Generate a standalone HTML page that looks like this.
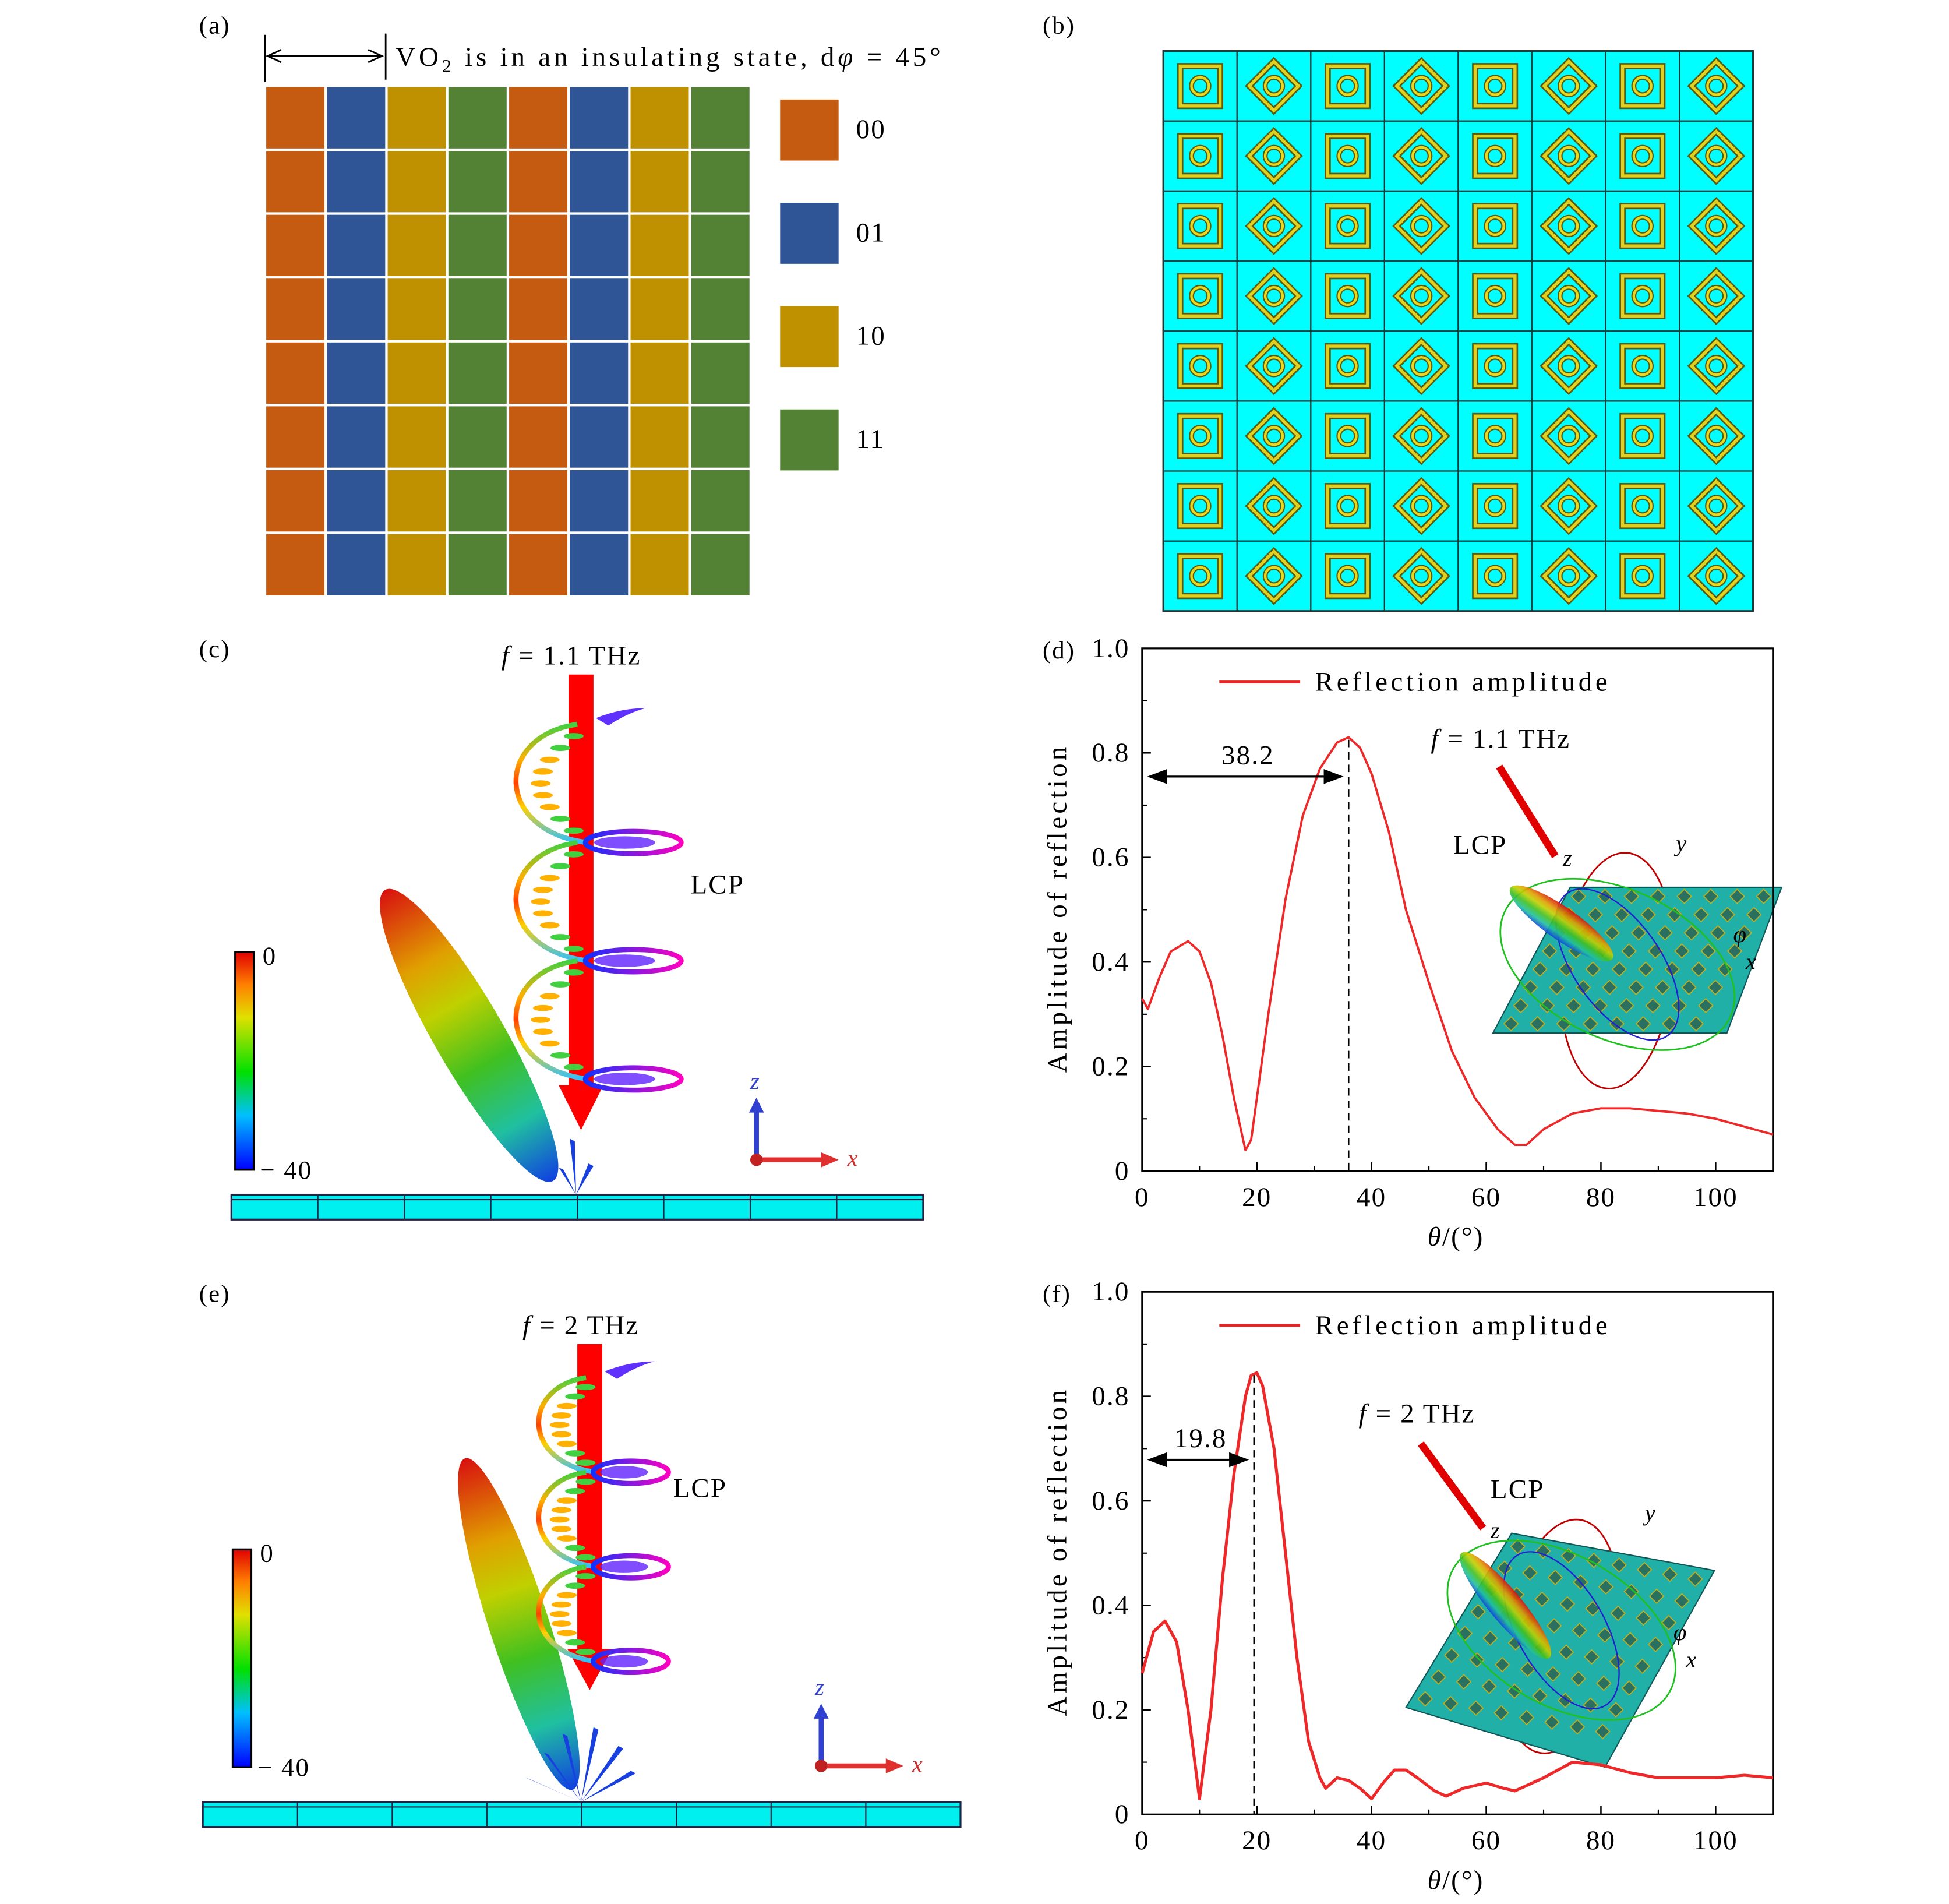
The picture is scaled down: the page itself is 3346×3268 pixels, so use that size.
<!DOCTYPE html>
<html><head><meta charset="utf-8">
<style>
html,body{margin:0;padding:0;background:#fff;}
#wrap{width:3346px;height:3268px;overflow:hidden;position:relative;background:#fff;}
#fig{position:absolute;left:0;top:0;transform:scale(2.136);transform-origin:0 0;}
text{font-family:"Liberation Serif",serif;fill:#000;}
</style></head><body>
<div id="wrap">
<svg id="fig" width="1567" height="1530" viewBox="0 0 1567 1530" xmlns="http://www.w3.org/2000/svg">
<defs>
<linearGradient id="cbar" x1="0" y1="1" x2="0" y2="0">
<stop offset="0" stop-color="#0000ff"/><stop offset="0.25" stop-color="#00c0ff"/><stop offset="0.45" stop-color="#00e000"/><stop offset="0.7" stop-color="#e0e000"/><stop offset="0.85" stop-color="#ff8000"/><stop offset="1" stop-color="#e00000"/></linearGradient>
<linearGradient id="lobe" x1="0" y1="0" x2="0" y2="1">
<stop offset="0" stop-color="#d81010"/><stop offset="0.25" stop-color="#e0a000"/><stop offset="0.4" stop-color="#c0d000"/><stop offset="0.6" stop-color="#40c020"/><stop offset="0.8" stop-color="#20c0a0"/><stop offset="1" stop-color="#1040e0"/></linearGradient>
<linearGradient id="rain" x1="0" y1="0" x2="0" y2="1">
<stop offset="0" stop-color="#40d040"/><stop offset="0.3" stop-color="#ffb000"/><stop offset="0.5" stop-color="#ff4000"/><stop offset="0.7" stop-color="#ffd000"/><stop offset="1" stop-color="#30c0ff"/></linearGradient>
<linearGradient id="bm" x1="0" y1="0" x2="1" y2="0">
<stop offset="0" stop-color="#1030ff"/><stop offset="1" stop-color="#ff00c0"/></linearGradient>
</defs>
<g id="root"></g>
</svg>
</div>
<script>
// ---- chart data ----
const thetaD=[0,1,3,5,8,10,12,14,16,18,19,22,25,28,31,34,36,38,40,43,46,50,54,58,62,65,67,70,75,80,85,90,95,100,105,110];
const ampD=[0.33,0.31,0.37,0.42,0.44,0.42,0.36,0.26,0.14,0.04,0.06,0.3,0.52,0.68,0.77,0.82,0.83,0.81,0.76,0.65,0.5,0.36,0.23,0.14,0.08,0.05,0.05,0.08,0.11,0.12,0.12,0.115,0.11,0.1,0.085,0.07];
const thetaF=[0,2,4,6,8,10,12,14,16,18,19,20,21,23,25,27,29,31,32,34,36,38,40,42,44,46,48,51,53,56,60,63,65,70,75,80,85,90,95,100,105,110];
const ampF=[0.27,0.35,0.37,0.33,0.2,0.03,0.2,0.45,0.65,0.8,0.84,0.845,0.82,0.7,0.5,0.3,0.14,0.07,0.05,0.07,0.065,0.05,0.03,0.06,0.085,0.085,0.07,0.045,0.035,0.05,0.06,0.05,0.045,0.07,0.1,0.095,0.08,0.07,0.07,0.07,0.075,0.07];
const xTicks=[0,20,40,60,80,100];
const yTicks=[0,0.2,0.4,0.6,0.8,1.0];
const yTickLabels=["0","0.2","0.4","0.6","0.8","1.0"];
const peakD=36, peakLabelD="38.2";
const peakF=19.5, peakLabelF="19.8";
const codeCols=["00","01","10","11","00","01","10","11"];
const codeColors={"00":"#c55a11","01":"#2f5597","10":"#bf9000","11":"#548235"};
const legendCodes=["00","01","10","11"];

const NS="http://www.w3.org/2000/svg";
const root=document.getElementById('root');
function mk(tag,attrs,parent,txt){const e=document.createElementNS(NS,tag);for(const k in attrs)e.setAttribute(k,attrs[k]);if(txt!==undefined)e.textContent=txt;(parent||root).appendChild(e);return e;}

// ---- panel (a) ----
let t=mk('text',{x:160,y:27,'font-size':20,'letter-spacing':1},root,'(a)');


const ga=mk('g',{});


for(let c=0;c<8;c++)for(let r=0;r<8;r++){
 const cell=mk('rect',{x:213+c*48.8+1,y:69+r*51.3+1,width:46.8,height:49.3,fill:codeColors[codeCols[c]]},ga);
 
 
}
mk('line',{x1:213,y1:28,x2:213,y2:66,stroke:'#000','stroke-width':1.3});
mk('line',{x1:310,y1:27,x2:310,y2:64,stroke:'#000','stroke-width':1.3});
mk('line',{x1:215,y1:45,x2:307,y2:45,stroke:'#000','stroke-width':1.3});
mk('path',{d:'M226,40 L215,45 L226,50 M296,40 L307,45 L296,50',fill:'none',stroke:'#000','stroke-width':1.3});
t=mk('text',{x:318,y:53,'font-size':22,textLength:438,lengthAdjust:'spacing'},root);
t.innerHTML='VO<tspan font-size="15" dy="5">2</tspan><tspan dy="-5"> is in an insulating state, d</tspan><tspan font-style="italic">φ</tspan> = 45°';


legendCodes.forEach((c,i)=>{
 const r=mk('rect',{x:627,y:80+i*83,width:47,height:49,fill:codeColors[c]});
 
 
 const l=mk('text',{x:688,y:111+i*83,'font-size':22,'letter-spacing':1},root,c);
 
 
});

// ---- panel (b) ----
t=mk('text',{x:838,y:27,'font-size':20,'letter-spacing':1},root,'(b)');


const gb=mk('g',{});


mk('rect',{x:935,y:41,width:474,height:450,fill:'#00ffff',stroke:'#333','stroke-width':1.5},gb);
const cw=474/8,ch=450/8;
for(let c=0;c<8;c++)for(let r=0;r<8;r++){
 const cx=935+c*cw+cw/2, cy=41+r*ch+ch/2;
 mk('rect',{x:935+c*cw,y:41+r*ch,width:cw,height:ch,fill:'none',stroke:'#1a3a3a','stroke-width':1},gb);
 const g=mk('g',{transform:`translate(${cx},${cy}) rotate(${c%2?45:0})`},gb);
 
 
 const s=c%2?14:16;
 mk('rect',{x:-s,y:-s,width:2*s,height:2*s,fill:'none',stroke:'#5a5a10','stroke-width':5},g);
 mk('rect',{x:-s,y:-s,width:2*s,height:2*s,fill:'none',stroke:'#e0d020','stroke-width':2.5},g);
 mk('circle',{cx:0,cy:0,r:7,fill:'none',stroke:'#5a5a10','stroke-width':4},g);
 mk('circle',{cx:0,cy:0,r:7,fill:'none',stroke:'#e8d820','stroke-width':2},g);
}

// ---- panels (c) and (e): 3D beams ----
function beamPanel(o){
 const g=mk('g',{});
 
 
 let l=mk('text',{x:160,y:o.labY,'font-size':20,'letter-spacing':1},g,o.lab);
 
 
 const cb=mk('rect',{x:o.cbx,y:o.cby,width:15,height:175,fill:'url(#cbar)',stroke:'#000','stroke-width':1.5},g);
 
 
 mk('text',{x:o.cbx+22,y:o.cby+10,'font-size':21},g,'0');
 mk('text',{x:o.cbx+20,y:o.cby+182,'font-size':21,'letter-spacing':1},g,'− 40');
 const sw=(o.sx2-o.sx1)/8;
 const sub=mk('g',{},g);
 
 
 mk('rect',{x:o.sx1,y:o.sy,width:o.sx2-o.sx1,height:20,fill:'#00f0f0',stroke:'#224','stroke-width':1.5},sub);
 mk('line',{x1:o.sx1,y1:o.sy+4,x2:o.sx2,y2:o.sy+4,stroke:'#224','stroke-width':1},sub);
 for(let i=1;i<8;i++)mk('line',{x1:o.sx1+i*sw,y1:o.sy,x2:o.sx1+i*sw,y2:o.sy+20,stroke:'#224','stroke-width':1},sub);
 const lb=mk('ellipse',{cx:0,cy:0,rx:o.lrx,ry:o.lry,fill:'url(#lobe)',transform:`translate(${o.lcx},${o.lcy}) rotate(${o.lrot})`},g);
 
 
 for(const a of o.side){mk('path',{d:`M${o.ox},${o.sy} l${a[0]},${a[1]} l4,2 z`,fill:'#1840e0'},g);}
 const ar=mk('path',{d:`M${o.ax-10},${o.a1} h20 v${o.a2-o.a1} h8 l-18,${o.a3-o.a2} l-18,-${o.a3-o.a2} h8 z`,fill:'#ff0000'},g);
 
 
 for(let k=0;k<3;k++){
  const y0=o.h0+k*o.hs;
  mk('path',{d:`M${o.ax-3},${y0} C${o.ax-o.hw},${y0+o.hs*0.1} ${o.ax-o.hw},${y0+o.hs*0.9} ${o.ax+5},${y0+o.hs}`,fill:'none',stroke:'url(#rain)','stroke-width':4},g);
  for(let j=1;j<10;j++){const yy=y0+j*o.hs/10;const xx=o.ax-o.hw*0.55*Math.sin(Math.PI*j/10);mk('ellipse',{cx:xx+6,cy:yy,rx:8,ry:2.5,fill:j<3||j>7?'#40d040':'#ffb000'},g);}
  mk('ellipse',{cx:o.ax+o.hw*0.6,cy:y0+o.hs,rx:o.hw*0.55,ry:9,fill:'none',stroke:'url(#bm)','stroke-width':4},g);
  mk('ellipse',{cx:o.ax+o.hw*0.5,cy:y0+o.hs,rx:o.hw*0.35,ry:5,fill:'#6020ff',opacity:0.8},g);
 }
 mk('path',{d:`M${o.ax+12},${o.h0-5} q20,-8 40,-8 q-15,4 -30,14 z`,fill:'#6030ff'},g);
 let ft=mk('text',{x:o.fx,y:o.fy,'font-size':22,'letter-spacing':1},g);
 ft.innerHTML='<tspan font-style="italic">f</tspan> = '+o.f+' THz';
 
 
 let lc=mk('text',{x:o.lcpx,y:o.lcpy,'font-size':22,'letter-spacing':1},g,'LCP');
 
 
 const tr=mk('g',{},g);
 
 
 mk('path',{d:`M${o.tx-2},${o.ty} v-38 h-4 l6,-12 l6,12 h-4 v38 z`,fill:'#3040d0'},tr);
 mk('path',{d:`M${o.tx},${o.ty-2} h52 v-4 l14,6 l-14,6 v-4 h-52 z`,fill:'#e03030'},tr);
 mk('circle',{cx:o.tx,cy:o.ty,r:5,fill:'#c02020'},tr);
 mk('text',{x:o.tx-5,y:o.ty-57,'font-size':19,'font-style':'italic',style:'fill:#3040d0'},tr,'z');
 mk('text',{x:o.tx+73,y:o.ty+5,'font-size':19,'font-style':'italic',style:'fill:#d03030'},tr,'x');
}
beamPanel({name:'panel-c',lab:'(c)',labY:528,cbx:189,cby:765,sx1:186,sx2:742,sy:960,lcx:377,lcy:832,lrx:28,lry:135,lrot:-30,ox:463,side:[[-5,-45],[10,-25],[-14,-22]],ax:467,a1:542,a2:872,a3:908,h0:582,hs:95,hw:70,fx:403,fy:534,f:'1.1',lcpx:555,lcpy:718,tx:608,ty:932});
beamPanel({name:'panel-e',lab:'(e)',labY:1046,cbx:187,cby:1245,sx1:163,sx2:772,sy:1448,lcx:417,lcy:1305,lrx:24,lry:140,lrot:-18,ox:467,side:[[-30,-40],[-15,-55],[10,-60],[30,-45],[40,-25],[-45,-20]],ax:474,a1:1080,a2:1325,a3:1358,h0:1107,hs:76,hw:55,fx:420,fy:1072,f:'2',lcpx:541,lcpy:1203,tx:660,ty:1419});

// ---- panels (d) and (f): line charts ----
function chart(o){
 const X0=918,X1=1425,Y0=o.top+420,Y1=o.top;
 const sx=v=>X0+(v/110)*(X1-X0), sy=v=>Y0-(v/1)*(Y0-Y1);
 const g=mk('g',{});
 
 
 let l=mk('text',{x:838,y:o.top+8,'font-size':20,'letter-spacing':1},g,o.lab);
 
 
 const ins=mk('g',{},g);
 
 
 const I=o.inset;
 mk('ellipse',{cx:I.cx,cy:I.cy+5,rx:45,ry:95,fill:'none',stroke:'#c00000','stroke-width':1.3,transform:`rotate(${I.rot} ${I.cx} ${I.cy})`},ins);
 mk('path',{d:`M${I.p[0]} L${I.p[1]} L${I.p[2]} L${I.p[3]} Z`,fill:'#20b0a8',stroke:'#155','stroke-width':1},ins);
 const pts=I.p.map(s=>s.split(',').map(Number));
 for(let i=0;i<8;i++)for(let j=0;j<8;j++){
  const u=(i+0.5)/8,v=(j+0.5)/8;
  const x=pts[0][0]+(pts[1][0]-pts[0][0])*u+(pts[3][0]-pts[0][0])*v;
  const y=pts[0][1]+(pts[1][1]-pts[0][1])*u+(pts[3][1]-pts[0][1])*v;
  mk('rect',{x:x-4,y:y-4,width:8,height:8,fill:'#2a7060',stroke:'#c0b020','stroke-width':0.8,transform:`rotate(45 ${x} ${y})`},ins);
 }
 mk('ellipse',{cx:I.cx,cy:I.cy,rx:100,ry:60,fill:'none',stroke:'#20c020','stroke-width':1.3,transform:`rotate(${I.rot+20} ${I.cx} ${I.cy})`},ins);
 mk('ellipse',{cx:I.cx,cy:I.cy,rx:70,ry:35,fill:'none',stroke:'#2020d0','stroke-width':1.1,transform:`rotate(${I.rot+50} ${I.cx} ${I.cy})`},ins);
 mk('ellipse',{cx:I.lx,cy:I.ly,rx:I.lr,ry:13,fill:'url(#lobe)',transform:`rotate(${I.lrot} ${I.lx} ${I.ly})`,style:'opacity:0.9'},ins);
 mk('line',{x1:I.ar[0],y1:I.ar[1],x2:I.ar[2],y2:I.ar[3],stroke:'#e00000','stroke-width':6},ins);
 let ft=mk('text',{x:I.fx,y:I.fy,'font-size':22,'letter-spacing':1},g);
 ft.innerHTML='<tspan font-style="italic">f</tspan> = '+o.f+' THz';
 
 
 mk('text',{x:I.lcpx,y:I.lcpy,'font-size':22,'letter-spacing':1},g,'LCP');
 mk('text',{x:I.ar[2]+6,y:I.ar[3]+8,'font-size':19,'font-style':'italic'},g,'z');
 mk('text',{x:I.yx,y:I.yy,'font-size':19,'font-style':'italic'},g,'y');
 mk('text',{x:I.xx,y:I.xy,'font-size':19,'font-style':'italic'},g,'x');
 mk('text',{x:I.xx-10,y:I.xy-22,'font-size':19,'font-style':'italic'},g,'φ');
 const fr=mk('rect',{x:X0,y:Y1,width:X1-X0,height:Y0-Y1,fill:'none',stroke:'#000','stroke-width':1.5},g);
 
 
 xTicks.forEach(v=>{mk('line',{x1:sx(v),y1:Y0,x2:sx(v),y2:Y0-7,stroke:'#000','stroke-width':1.2},g);
  const tl=mk('text',{x:sx(v),y:Y0+28,'font-size':22,'text-anchor':'middle','letter-spacing':1},g,String(v));
  
  });
 for(let v=10;v<110;v+=20)mk('line',{x1:sx(v),y1:Y0,x2:sx(v),y2:Y0-4,stroke:'#000','stroke-width':1},g);
 yTicks.forEach((v,i)=>{mk('line',{x1:X0,y1:sy(v),x2:X0+7,y2:sy(v),stroke:'#000','stroke-width':1.2},g);
  const tl=mk('text',{x:X0-10,y:sy(v)+7,'font-size':22,'text-anchor':'end','letter-spacing':1},g,yTickLabels[i]);
  
  });
 for(let v=0.1;v<1;v+=0.2)mk('line',{x1:X0,y1:sy(v),x2:X0+4,y2:sy(v),stroke:'#000','stroke-width':1},g);
 let yt=mk('text',{x:0,y:0,'font-size':22,'text-anchor':'middle',transform:`translate(857,${(Y0+Y1)/2}) rotate(-90)`,textLength:262,lengthAdjust:'spacing'},g,'Amplitude of reflection');
 
 
 let xt=mk('text',{x:1170,y:Y0+60,'font-size':22,'text-anchor':'middle','letter-spacing':1},g);
 xt.innerHTML='<tspan font-style="italic">θ</tspan>/(°)';
 
 
 mk('line',{x1:980,y1:o.top+27,x2:1045,y2:o.top+27,stroke:'#ee2222','stroke-width':2.2},g);
 let lt=mk('text',{x:1057,y:o.top+34,'font-size':22,textLength:235,lengthAdjust:'spacing'},g,'Reflection amplitude');
 
 
 const d=o.xs.map((x,i)=>(i?'L':'M')+sx(x).toFixed(1)+','+sy(o.ys[i]).toFixed(1)).join(' ');
 const ln=mk('path',{d:d,fill:'none',stroke:'#ee2828','stroke-width':o.sw,'stroke-linejoin':'round'},g);
 
 
 let pk=0;o.xs.forEach((x,i)=>{if(o.ys[i]>o.ys[pk])pk=i;});
 mk('line',{x1:sx(o.peak),y1:sy(o.ys[pk])+2,x2:sx(o.peak),y2:Y0,stroke:'#000','stroke-width':1.2,'stroke-dasharray':'6,4'},g);
 const ay=o.top+o.arY;
 mk('line',{x1:X0+6,y1:ay,x2:sx(o.peak)-6,y2:ay,stroke:'#000','stroke-width':1.5},g);
 mk('path',{d:`M${X0+4},${ay} l16,-6 v12 z M${sx(o.peak)-4},${ay} l-16,-6 v12 z`,fill:'#000'},g);
 let pl=mk('text',{x:(X0+sx(o.peak))/2+2,y:ay-10,'font-size':22,'text-anchor':'middle','letter-spacing':1},g,o.plab);
 
 
}
chart({name:'panel-d',lab:'(d)',top:521,xs:thetaD,ys:ampD,peak:peakD,plab:peakLabelD,arY:103,f:'1.1',sw:1.8,
 inset:{cx:1300,cy:775,rot:5,p:['1262,713','1432,713','1388,830','1200,830'],lx:1255,ly:742,lr:50,lrot:35,ar:[1205,616,1250,688],fx:1150,fy:601,lcpx:1168,lcpy:686,yx:1347,yy:684,xx:1403,xy:779}});
chart({name:'panel-f',lab:'(f)',top:1038,xs:thetaF,ys:ampF,peak:peakF,plab:peakLabelF,arY:135,f:'2',sw:2.4,
 inset:{cx:1255,cy:1310,rot:10,p:['1215,1232','1378,1262','1290,1420','1130,1372'],lx:1210,ly:1290,lr:55,lrot:50,ar:[1142,1160,1192,1228],fx:1092,fy:1143,lcpx:1198,lcpy:1204,yx:1322,yy:1222,xx:1355,xy:1340}});
</script>
</body></html>
